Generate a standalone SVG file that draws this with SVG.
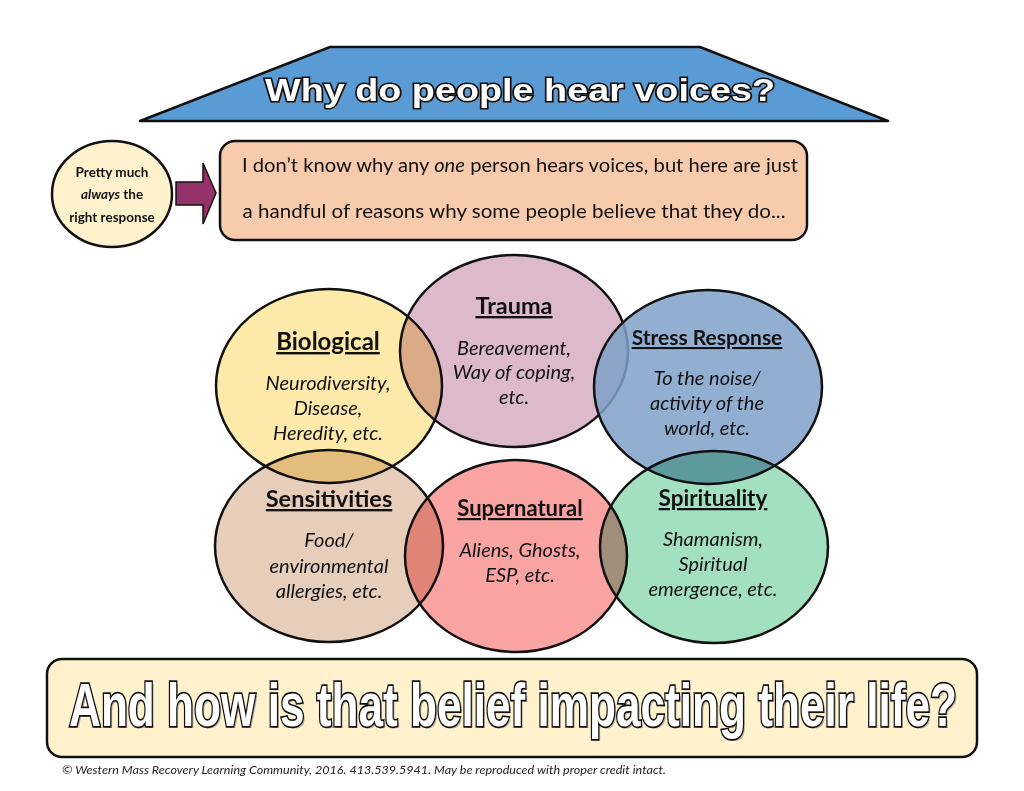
<svg xmlns="http://www.w3.org/2000/svg" width="1024" height="791" viewBox="0 0 1024 791">
<style>
.circ{stroke:none;mix-blend-mode:multiply}
.ring{fill:none;stroke:#111;stroke-width:2.5}
.ttl{font-family:Lato,'Open Sans',sans-serif;font-weight:bold;font-size:23.5px;fill:#111;text-anchor:middle;text-decoration:underline}
.bdy{font-family:Lato,'Open Sans',sans-serif;font-style:italic;font-size:20px;fill:#111;text-anchor:middle}
.hdr{font-family:Lato,'Open Sans',sans-serif;font-size:18.5px;fill:#111;text-anchor:middle}
.sml{font-family:Lato,'Open Sans',sans-serif;font-weight:bold;font-size:13.5px;fill:#111;text-anchor:middle}
.outl{font-family:'Liberation Sans',Arial,sans-serif;font-weight:bold;fill:#fff;stroke:#111;paint-order:stroke;text-anchor:middle}
.shad{font-family:'Liberation Sans',Arial,sans-serif;font-weight:bold;fill:#888;opacity:0.6;text-anchor:middle}
</style>
<rect x="0" y="0" width="1024" height="791" fill="#fff"/>

<g id="title">
<polygon points="330,47 700,47 888,121 140,121" fill="#5b9bd5" stroke="#111" stroke-width="2.5" stroke-linejoin="round"/>
<text class="shad" x="522" y="103" font-size="32" textLength="510" lengthAdjust="spacingAndGlyphs">Why do people hear voices?</text>
<text class="outl" x="520" y="101" font-size="32" stroke-width="3" textLength="510" lengthAdjust="spacingAndGlyphs">Why do people hear voices?</text>
</g>

<g id="response">
<ellipse cx="112" cy="194" rx="60" ry="53" fill="#fff2cc" stroke="#111" stroke-width="2.5"/>
<text class="sml" x="112" y="177">Pretty much</text>
<text class="sml" x="112" y="199"><tspan font-style="italic">always</tspan> the</text>
<text class="sml" x="112" y="222">right response</text>
</g>

<g id="connectors">
<polygon points="176,182 203,182 203,163 216,193 203,224 203,205 176,205" fill="#96326a" stroke="#111" stroke-width="1.5"/>
</g>

<g id="statement">
<rect x="220" y="141" width="587" height="99" rx="15" ry="15" fill="#f8cbad" stroke="#111" stroke-width="2.5"/>
<text class="hdr" x="520" y="172" textLength="556" lengthAdjust="spacingAndGlyphs">I don’t know why any <tspan font-style="italic">one</tspan> person hears voices, but here are just</text>
<text class="hdr" x="514" y="218" textLength="543" lengthAdjust="spacingAndGlyphs">a handful of reasons why some people believe that they do...</text>
</g>

<g id="biological">
<ellipse class="circ" cx="329" cy="386" rx="113" ry="97" fill="#fde9a9"/>
<ellipse class="ring" cx="329" cy="386" rx="113" ry="97"/>
<text class="ttl" x="328" y="350" style="font-size:24px">Biological</text>
<text class="bdy" x="328" y="390">Neurodiversity,</text>
<text class="bdy" x="328" y="415">Disease,</text>
<text class="bdy" x="328" y="440">Heredity, etc.</text>
</g>

<g id="trauma">
<ellipse class="circ" cx="514" cy="351" rx="114" ry="96" fill="#ddbacb"/>
<ellipse class="ring" cx="514" cy="351" rx="114" ry="96"/>
<text class="ttl" x="514" y="314">Trauma</text>
<text class="bdy" x="514" y="355">Bereavement,</text>
<text class="bdy" x="514" y="379">Way of coping,</text>
<text class="bdy" x="514" y="404">etc.</text>
</g>

<g id="stress">
<ellipse cx="708" cy="387" rx="114" ry="97" fill="#7fa0c9" fill-opacity="0.85"/>
<ellipse class="ring" cx="708" cy="387" rx="114" ry="97"/>
<text class="ttl" x="707" y="345" style="font-size:21px">Stress Response</text>
<text class="bdy" x="707" y="385">To the noise/</text>
<text class="bdy" x="707" y="410">activity of the</text>
<text class="bdy" x="707" y="435">world, etc.</text>
</g>

<g id="sensitivities">
<ellipse class="circ" cx="329" cy="546" rx="114" ry="96" fill="#e6cebb"/>
<ellipse class="ring" cx="329" cy="546" rx="114" ry="96"/>
<text class="ttl" x="329" y="507">Sensitivities</text>
<text class="bdy" x="329" y="547">Food/</text>
<text class="bdy" x="329" y="573">environmental</text>
<text class="bdy" x="329" y="598">allergies, etc.</text>
</g>

<g id="supernatural">
<ellipse class="circ" cx="516" cy="556" rx="111" ry="96" fill="#f9a3a3"/>
<ellipse class="ring" cx="516" cy="556" rx="111" ry="96"/>
<text class="ttl" x="520" y="516" style="font-size:22px">Supernatural</text>
<text class="bdy" x="520" y="557">Aliens, Ghosts,</text>
<text class="bdy" x="520" y="582">ESP, etc.</text>
</g>

<g id="spirituality">
<ellipse class="circ" cx="714" cy="547" rx="114" ry="96" fill="#a3e0c0"/>
<ellipse class="ring" cx="714" cy="547" rx="114" ry="96"/>
<text class="ttl" x="713" y="506" style="font-size:22.5px">Spirituality</text>
<text class="bdy" x="713" y="546">Shamanism,</text>
<text class="bdy" x="713" y="571">Spiritual</text>
<text class="bdy" x="713" y="596">emergence, etc.</text>
</g>

<g id="question">
<rect x="47" y="659" width="930" height="98" rx="15" ry="15" fill="#fff2cc" stroke="#111" stroke-width="2.5"/>
<text class="shad" x="515" y="728" font-size="62" textLength="888" lengthAdjust="spacingAndGlyphs" style="font-family:'Liberation Sans Narrow','Liberation Sans',sans-serif">And how is that belief impacting their life?</text>
<text class="outl" x="513" y="726" font-size="62" stroke-width="3.5" textLength="888" lengthAdjust="spacingAndGlyphs" style="font-family:'Liberation Sans Narrow','Liberation Sans',sans-serif">And how is that belief impacting their life?</text>
</g>

<g id="footer">
<text x="62" y="774" font-family="Lato,'Open Sans',sans-serif" font-style="italic" font-size="12" fill="#222" textLength="604" lengthAdjust="spacingAndGlyphs">© Western Mass Recovery Learning Community, 2016. 413.539.5941. May be reproduced with proper credit intact.</text>
</g>
</svg>
